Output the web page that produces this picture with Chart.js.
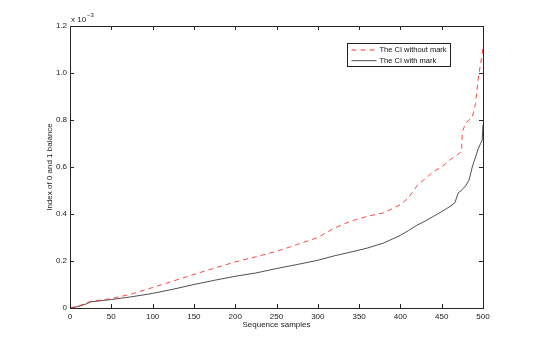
<!DOCTYPE html>
<html>
<head>
<meta charset="utf-8">
<script src="https://cdn.jsdelivr.net/npm/chart.js@4/dist/chart.umd.min.js"></script>
<style>
  html, body { margin: 0; padding: 0; background: #fff; }
  #wrap { width: 533px; height: 347px; }
</style>
</head>
<body>
<div id="wrap"><canvas id="c" width="533" height="347"></canvas></div>
<script>
// sample index (x axis)
const samples = [0, 10, 20, 25, 50, 75, 100, 125, 150, 175, 200, 225, 250, 275, 300, 320, 340, 360, 380, 400,
                 410, 420, 430, 440, 450, 460, 466, 470, 474, 475, 479, 483, 487, 491, 494, 497, 499, 500];
// values in units of 1e-3
const ciWithoutMark = [0, 0.008, 0.022, 0.028, 0.04, 0.06, 0.087, 0.115, 0.143, 0.17, 0.196, 0.218, 0.241, 0.27, 0.3, 0.34, 0.37, 0.39, 0.405, 0.44,
                       0.47, 0.52, 0.55, 0.58, 0.6, 0.63, 0.645, 0.655, 0.665, 0.75, 0.786, 0.8, 0.813, 0.87, 0.97, 1.04, 1.08, 1.12];
const ciWithMark = [0, 0.006, 0.018, 0.026, 0.036, 0.048, 0.062, 0.08, 0.1, 0.118, 0.135, 0.149, 0.168, 0.185, 0.203, 0.222, 0.238, 0.255, 0.277, 0.309,
                    0.33, 0.352, 0.37, 0.39, 0.41, 0.432, 0.448, 0.49, 0.5, 0.505, 0.52, 0.543, 0.6, 0.643, 0.675, 0.7, 0.714, 0.78];
const seriesNames = ['The CI without mark', 'The CI with mark'];
const xTicks = [0, 50, 100, 150, 200, 250, 300, 350, 400, 450, 500];
const yTicks = [0, 0.2, 0.4, 0.6, 0.8, 1, 1.2];

const FONT = 'Liberation Sans, Arial, Helvetica, sans-serif';

const toPoints = vals => samples.map((s, i) => ({x: s, y: vals[i]}));

// matlab style box, inward ticks, exponent label and legend
const matlabAxes = {
    id: 'matlabAxes',
    afterDraw(chart) {
        const ctx = chart.ctx;
        const a = chart.chartArea;
        const xs = chart.scales.x, ys = chart.scales.y;
        ctx.save();
        ctx.strokeStyle = '#262626';
        ctx.lineWidth = 1;
        ctx.beginPath();
        xTicks.forEach(t => {
            const px = Math.round(xs.getPixelForValue(t)) + 0.5;
            ctx.moveTo(px, a.bottom); ctx.lineTo(px, a.bottom - 4);
            ctx.moveTo(px, a.top); ctx.lineTo(px, a.top + 4);
        });
        yTicks.forEach(t => {
            const py = Math.round(ys.getPixelForValue(t)) + 0.5;
            ctx.moveTo(a.left, py); ctx.lineTo(a.left + 4, py);
            ctx.moveTo(a.right, py); ctx.lineTo(a.right - 4, py);
        });
        ctx.stroke();
        ctx.strokeRect(Math.round(a.left) + 0.5, Math.round(a.top) + 0.5, Math.round(a.right - a.left), Math.round(a.bottom - a.top));

        // x 10^-3
        ctx.fillStyle = '#222';
        ctx.font = '8px ' + FONT;
        ctx.textBaseline = 'middle';
        ctx.textAlign = 'left';
        ctx.fillText('x 10', a.left + 1, a.top - 6);
        ctx.font = '6px ' + FONT;
        ctx.fillText('\u22123', a.left + 17, a.top - 11);

        // legend
        const lx = Math.round(a.left + 277) + 0.5, ly = Math.round(a.top + 17) + 0.5;
        const lw = 103, lh = 23;
        ctx.fillStyle = '#fff';
        ctx.fillRect(lx, ly, lw, lh);
        ctx.strokeStyle = '#222';
        ctx.strokeRect(lx, ly, lw, lh);
        const styles = [{c: '#ff0000', d: [5, 4]}, {c: '#222', d: []}];
        seriesNames.forEach((name, i) => {
            const yy = ly + 6.5 + i * 10.7;
            ctx.strokeStyle = styles[i].c;
            ctx.lineWidth = 0.8;
            ctx.setLineDash(styles[i].d);
            ctx.beginPath();
            ctx.moveTo(lx + 4, yy); ctx.lineTo(lx + 29, yy);
            ctx.stroke();
            ctx.setLineDash([]);
            ctx.fillStyle = '#111';
            ctx.font = '7.5px ' + FONT;
            ctx.textBaseline = 'middle';
            ctx.fillText(name, lx + 32, yy);
        });
        ctx.restore();
    }
};

new Chart(document.getElementById('c'), {
    type: 'line',
    data: {
        datasets: [{
            label: seriesNames[0],
            data: toPoints(ciWithoutMark),
            borderColor: '#ff1a1a',
            borderWidth: 0.8,
            borderDash: [5, 4],
            pointRadius: 0,
            tension: 0
        }, {
            label: seriesNames[1],
            data: toPoints(ciWithMark),
            borderColor: '#222',
            borderWidth: 0.8,
            pointRadius: 0,
            tension: 0
        }]
    },
    options: {
        responsive: false,
        animation: false,
        events: [],
        layout: { padding: { left: 0, top: 26, right: 50, bottom: 0 } },
        plugins: { legend: { display: false }, tooltip: { enabled: false } },
        scales: {
            x: {
                type: 'linear',
                min: 0, max: 500,
                grid: { display: false, drawTicks: false },
                border: { display: false },
                afterBuildTicks: s => { s.ticks = xTicks.map(v => ({value: v})); },
                afterFit: s => { s.height = 39; },
                ticks: { color: '#222', font: { family: FONT, size: 8 }, padding: 4, maxRotation: 0 },
                title: { display: true, text: 'Sequence samples', color: '#222', font: { family: FONT, size: 8 }, padding: { bottom: 17 } }
            },
            y: {
                min: 0, max: 1.2,
                grid: { display: false, drawTicks: false },
                border: { display: false },
                afterBuildTicks: s => { s.ticks = yTicks.map(v => ({value: v})); },
                afterFit: s => { s.width = 70; },
                ticks: { color: '#222', font: { family: FONT, size: 8 }, padding: 3 },
                title: { display: true, text: 'Index of 0 and 1 balance', color: '#222', font: { family: FONT, size: 8 }, padding: { top: 45 } }
            }
        }
    },
    plugins: [matlabAxes]
});
</script>
</body>
</html>
